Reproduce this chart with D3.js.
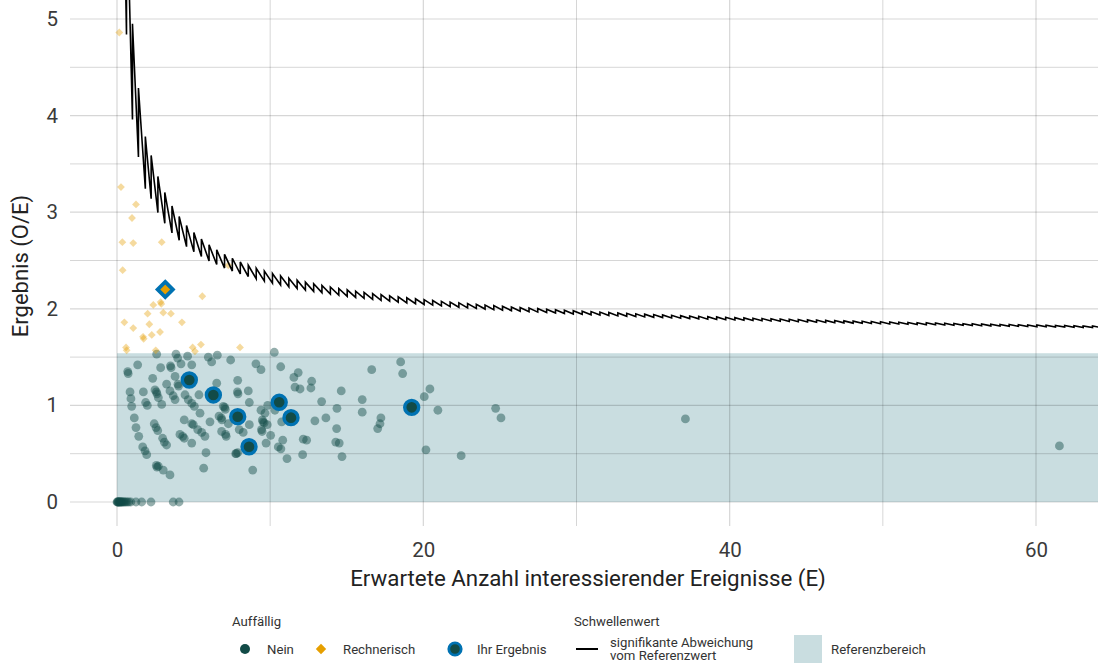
<!DOCTYPE html>
<html><head><meta charset="utf-8">
<script src="https://cdn.jsdelivr.net/npm/d3@7"></script>
<style>
html,body{margin:0;padding:0;background:#fff;}
svg{display:block;font-family:Roboto,"Noto Sans",sans-serif;}
</style></head><body>
<svg id="chart" width="1098" height="664"></svg>
<script>
// ---------- data ----------
const xTicks = [0, 20, 40, 60];
const xMinorTicks = [10, 30, 50];
const yTicks = [0, 1, 2, 3, 4, 5];
const yMinorTicks = [0.5, 1.5, 2.5, 3.5, 4.5];
const referenzbereich = [0, 1.54];   // O/E range of the reference band

// [E, O/E]
const neinPoints = [
[0.70,1.35],[0.73,1.33],[1.35,1.42],[2.59,1.53],[2.85,1.39],[3.49,1.41],[3.53,1.39],[3.85,1.53],[3.96,1.49],[4.18,1.43],[4.61,1.51],[4.88,1.42],[5.96,1.50],[6.18,1.45],
[3.79,1.30],[2.33,1.28],[3.24,1.22],[3.98,1.22],[4.02,1.20],
[0.85,1.14],[1.72,1.14],[2.48,1.16],[2.57,1.14],[2.61,1.12],[2.70,1.08],[3.46,1.15],[3.67,1.10],[3.79,1.06],[4.44,1.11],[4.65,1.06],[4.88,1.02],[5.05,0.99],[5.35,1.11],[5.42,0.92],[6.07,0.83],
[0.91,1.07],[0.96,0.99],[1.87,1.03],[1.98,1.00],[2.92,1.01],
[1.13,0.87],[1.24,0.77],[1.42,0.68],[2.43,0.81],[2.55,0.77],[2.66,0.74],[2.98,0.66],[3.09,0.62],[3.24,0.59],[4.11,0.70],[4.29,0.68],[4.39,0.66],[4.39,0.85],[4.88,0.81],[4.98,0.80],[5.27,0.75],[5.53,0.72],[5.74,0.68],[4.88,0.61],[5.81,0.51],
[1.68,0.57],[1.83,0.53],[1.94,0.49],[2.57,0.38],[2.61,0.36],[2.70,0.37],[3.02,0.33],[3.46,0.28],[5.66,0.35],
[6.55,1.52],[7.42,1.47],[9.07,1.43],[9.40,1.37],[10.27,1.55],[10.69,1.40],[11.55,1.29],[11.83,1.34],[11.62,1.19],[11.95,1.17],[12.71,1.25],[12.66,1.18],[13.36,1.04],
[6.51,1.23],[7.88,1.26],[7.86,1.14],[7.90,1.12],[8.57,1.15],[8.64,1.03],[6.94,0.99],[7.03,0.98],[7.07,0.96],[6.66,0.89],[6.81,0.87],[6.85,0.85],[7.27,0.81],[8.64,0.80],[7.98,0.75],[8.24,0.72],[6.83,0.73],[7.09,0.70],[7.13,0.68],
[9.40,0.95],[9.66,0.92],[9.84,1.00],[10.31,0.95],[9.49,0.85],[9.53,0.83],[9.61,0.82],[9.81,0.80],[9.43,0.75],[9.47,0.73],[10.03,0.69],[10.75,0.83],[9.73,0.61],[10.82,0.64],[10.53,0.57],[10.70,0.55],[7.75,0.50],[7.79,0.50],[7.88,0.51],[11.10,0.45],[8.86,0.33],
[12.92,0.84],[13.64,0.87],[12.16,0.65],[12.38,0.64],[12.12,0.49],[14.36,0.97],[14.34,0.76],[14.28,0.62],[14.51,0.61],[14.69,0.47],[14.64,1.15],[16.63,1.37],[18.52,1.45],[18.65,1.33],[16.01,1.06],[16.01,0.93],[17.23,0.87],[17.17,0.81],[17.02,0.76],[20.43,1.17],[20.06,1.09],[20.95,0.95],[20.17,0.54],[22.47,0.48],[24.72,0.97],[25.07,0.87],[37.11,0.86],[61.53,0.58],
[0.00,0],[0.03,0],[0.06,0],[0.09,0],[0.12,0],[0.16,0],[0.19,0],[0.23,0],[0.27,0],[0.31,0],[0.36,0],[0.42,0],[0.49,0],[0.57,0],[0.66,0],[0.77,0],[0.90,0],[1.24,0],[1.61,0],[2.22,0],[3.67,0],[4.05,0]
];

const rechnerischPoints = [
[0.15,4.86],[0.26,3.26],[1.24,3.08],[0.98,2.94],[0.35,2.69],[1.06,2.68],[2.92,2.69],[0.37,2.40],[5.57,2.13],[7.27,2.45],[2.37,2.04],[2.85,2.07],[2.89,2.05],[2.00,1.95],[3.02,1.96],[3.52,1.95],[0.48,1.86],[1.06,1.80],[2.11,1.84],[4.24,1.86],[2.27,1.73],[2.81,1.76],[1.70,1.71],[1.74,1.69],[0.59,1.60],[0.63,1.57],[2.53,1.57],[4.94,1.60],[5.09,1.56],[5.48,1.63],[8.03,1.60]
];

const ihrErgebnisNein = [[4.72,1.263],[6.29,1.108],[7.88,0.883],[10.59,1.032],[11.36,0.873],[8.62,0.572],[19.24,0.98]];
const ihrErgebnisRechnerisch = [[3.15,2.20]];

// threshold: [observed count O, E at which O steps up]
const schwelleStartE = 0.55;
const schwelleSteps = [
[3,0.62],[4,1.01],[5,1.40],[6,1.85],[7,2.23],[8,2.67],[9,3.12],[10,3.59],[11,4.06],[12,4.54],[13,5.02],[14,5.51],[15,6.01],[16,6.51],[17,7.02],[18,7.53],[19,8.05],[20,8.57],[21,9.09],[22,9.62],[23,10.15],[24,10.68],[25,11.22],[26,11.76],[27,12.30],[28,12.84],[29,13.38],[30,13.93],[31,14.48],[32,15.03],[33,15.58],[34,16.13],[35,16.69],[36,17.24],[37,17.80],[38,18.36],[39,18.92],[40,19.49],[41,20.05],[42,20.61],[43,21.18],[44,21.75],[45,22.32],[46,22.89],[47,23.46],[48,24.03],[49,24.60],[50,25.17],[51,25.75],[52,26.32],[53,26.90],[54,27.47],[55,28.05],[56,28.63],[57,29.21],[58,29.79],[59,30.37],[60,30.95],[61,31.53],[62,32.11],[63,32.70],[64,33.28],[65,33.87],[66,34.45],[67,35.04],[68,35.62],[69,36.21],[70,36.80],[71,37.39],[72,37.98],[73,38.57],[74,39.15],[75,39.74],[76,40.34],[77,40.93],[78,41.52],[79,42.11],[80,42.70],[81,43.30],[82,43.89],[83,44.48],[84,45.08],[85,45.67],[86,46.27],[87,46.86],[88,47.46],[89,48.06],[90,48.65],[91,49.25],[92,49.85],[93,50.45],[94,51.04],[95,51.64],[96,52.24],[97,52.84],[98,53.44],[99,54.04],[100,54.64],[101,55.24],[102,55.84],[103,56.45],[104,57.05],[105,57.65],[106,58.25],[107,58.85],[108,59.46],[109,60.06],[110,60.66],[111,61.27],[112,61.87],[113,62.48],[114,63.08],[115,63.69],[116,64.29]
];

// ---------- drawing ----------
const svg = d3.select("#chart");
const panel = {left:70, right:1098, top:0, bottom:526};
const x = d3.scaleLinear().domain([0,60]).range([117,1036]);
const y = d3.scaleLinear().domain([0,5]).range([502,19]);

const col = {nein:"#124b47", orange:"#e69f00", blue:"#0072b2", band:"#c9dde0", text:"#333333"};

svg.append("defs").append("clipPath").attr("id","clip")
  .append("rect").attr("x",panel.left).attr("y",panel.top)
  .attr("width",panel.right-panel.left).attr("height",panel.bottom-panel.top);

const g = svg.append("g").attr("clip-path","url(#clip)");

// reference band
g.append("rect")
  .attr("x", x(0)).attr("y", y(referenzbereich[1]))
  .attr("width", panel.right - x(0))
  .attr("height", y(referenzbereich[0]) - y(referenzbereich[1]))
  .attr("fill", col.band);

// grid
const grid = g.append("g").attr("stroke","rgba(0,0,0,0.16)");
grid.selectAll(".hy").data(yTicks.concat(yMinorTicks)).join("line")
  .attr("x1",panel.left).attr("x2",panel.right)
  .attr("y1",d=>y(d)).attr("y2",d=>y(d))
  .attr("stroke-width",d=>Number.isInteger(d)?1.2:1.0);
grid.selectAll(".vx").data(xTicks.concat(xMinorTicks)).join("line")
  .attr("y1",panel.top).attr("y2",panel.bottom)
  .attr("x1",d=>x(d)).attr("x2",d=>x(d))
  .attr("stroke-width",d=>d%20===0?1.2:1.0);

// points
g.append("g").selectAll("circle").data(neinPoints).join("circle")
  .attr("cx",d=>x(d[0])).attr("cy",d=>y(d[1])).attr("r",4.4)
  .attr("fill",col.nein).attr("fill-opacity",0.45);

const diamond = s => `M0,${-s}L${s},0L0,${s}L${-s},0Z`;
g.append("g").selectAll("path").data(rechnerischPoints).join("path")
  .attr("transform",d=>`translate(${x(d[0])},${y(d[1])})`)
  .attr("d",diamond(3.9))
  .attr("fill",col.orange).attr("fill-opacity",0.38);

// threshold line
const schwelleVertices = [];
schwelleSteps.forEach((s,i)=>{
  const e0 = i===0 ? schwelleStartE : schwelleSteps[i-1][1];
  const e1 = s[1];
  schwelleVertices.push([e0, s[0]/e0]);
  schwelleVertices.push([e1, s[0]/e1]);
});
g.append("path").datum(schwelleVertices)
  .attr("d", d3.line().x(d=>x(d[0])).y(d=>y(d[1])))
  .attr("fill","none").attr("stroke","#000").attr("stroke-width",1.6)
  .attr("stroke-linejoin","miter").attr("stroke-miterlimit",4);

// highlighted results
g.append("g").selectAll("circle").data(ihrErgebnisNein).join("circle")
  .attr("cx",d=>x(d[0])).attr("cy",d=>y(d[1])).attr("r",7)
  .attr("fill",col.nein).attr("stroke",col.blue).attr("stroke-width",3.4);
g.append("g").selectAll("path").data(ihrErgebnisRechnerisch).join("path")
  .attr("transform",d=>`translate(${x(d[0])},${y(d[1])})`)
  .attr("d",diamond(7.6))
  .attr("fill",col.orange).attr("stroke",col.blue).attr("stroke-width",3.8);

// axes
const xAxis = svg.append("g").attr("transform",`translate(0,${panel.bottom})`)
  .call(d3.axisBottom(x).tickValues(xTicks).tickSize(0).tickPadding(16).tickFormat(d3.format("d")));
const yAxis = svg.append("g").attr("transform",`translate(${panel.left},0)`)
  .call(d3.axisLeft(y).tickValues(yTicks).tickSize(0).tickPadding(12).tickFormat(d3.format("d")));
[xAxis,yAxis].forEach(a=>{
  a.select(".domain").remove();
  a.selectAll("text").attr("font-family","Roboto").attr("font-size",20.5).attr("fill","#3a3a3a");
});

svg.append("text").attr("x",588).attr("y",586).attr("text-anchor","middle")
  .attr("font-size",22.3).attr("fill","#222").text("Erwartete Anzahl interessierender Ereignisse (E)");
svg.append("text").attr("transform","translate(28,266) rotate(-90)").attr("text-anchor","middle")
  .attr("font-size",22).attr("fill","#222").text("Ergebnis (O/E)");

// legend
const lg = svg.append("g").attr("font-size",13.2).attr("fill",col.text);
lg.append("text").attr("x",232).attr("y",626).text("Auffällig");
lg.append("text").attr("x",574).attr("y",626).text("Schwellenwert");
const ly = 649;
lg.append("circle").attr("cx",245).attr("cy",ly).attr("r",5).attr("fill",col.nein);
lg.append("text").attr("x",267).attr("y",ly).attr("dy","0.35em").text("Nein");
lg.append("path").attr("transform",`translate(321,${ly})`).attr("d",diamond(5.2)).attr("fill",col.orange);
lg.append("text").attr("x",343).attr("y",ly).attr("dy","0.35em").text("Rechnerisch");
lg.append("circle").attr("cx",455).attr("cy",ly).attr("r",6.2).attr("fill",col.nein).attr("stroke",col.blue).attr("stroke-width",2.8);
lg.append("text").attr("x",477).attr("y",ly).attr("dy","0.35em").text("Ihr Ergebnis");
lg.append("line").attr("x1",576).attr("x2",598).attr("y1",ly).attr("y2",ly).attr("stroke","#000").attr("stroke-width",2);
lg.append("text").attr("x",610).attr("y",642.5).attr("dy","0.35em").text("signifikante Abweichung");
lg.append("text").attr("x",610).attr("y",655.5).attr("dy","0.35em").text("vom Referenzwert");
lg.append("rect").attr("x",794).attr("y",635).attr("width",28).attr("height",28).attr("fill",col.band);
lg.append("text").attr("x",831).attr("y",ly).attr("dy","0.35em").text("Referenzbereich");
</script>
</body></html>
